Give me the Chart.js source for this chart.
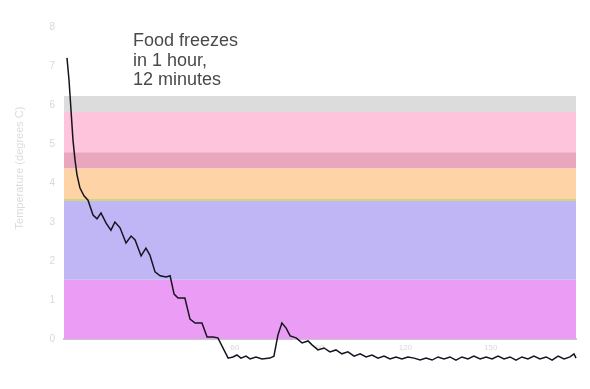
<!DOCTYPE html>
<html>
<head>
<meta charset="utf-8">
<script src="https://cdn.jsdelivr.net/npm/chart.js@4/dist/chart.umd.min.js"></script>
<style>
  html, body { margin: 0; padding: 0; background: #ffffff; }
  #wrap { width: 590px; height: 389px; }
</style>
</head>
<body>
<div id="wrap"><canvas id="c" width="590" height="389"></canvas></div>
<script>
// ---- data (minutes elapsed, temperature reading) ----
const minutes = [
  1.05, 1.76, 2.46, 3.16, 3.87, 4.57, 5.62, 7.03, 8.44, 10.2, 11.6, 13.0, 14.8, 16.5, 17.9, 19.7,
  21.8, 23.6, 25.0, 27.1, 28.8, 30.2, 32.0, 33.8, 35.9, 37.3, 38.7, 40.1, 42.5, 44.3, 46.1, 48.5,
  50.3, 52.4, 54.1, 57.7, 59.4, 60.8, 62.2, 64.0, 65.4, 67.5, 69.6, 72.4, 73.8, 75.2, 76.6, 78.1,
  79.5, 81.6, 83.7, 85.8, 87.2, 89.3, 91.4, 93.5, 95.6, 97.7, 99.8, 102.0, 104.1, 106.2, 108.3, 110.4,
  112.5, 114.6, 116.7, 118.8, 120.9, 123.1, 125.2, 127.3, 129.4, 131.5, 133.6, 135.7, 137.8, 139.9,
  142.0, 144.1, 146.3, 148.4, 150.5, 152.6, 154.7, 156.8, 158.9, 161.0, 163.1, 165.2, 167.3, 169.5,
  171.6, 173.7, 175.8, 177.9, 179.3, 180.0
];
const temperature = [
  7.21, 6.64, 5.87, 5.10, 4.59, 4.21, 3.87, 3.67, 3.56, 3.18, 3.08, 3.23, 2.97, 2.79, 3.00, 2.85,
  2.46, 2.64, 2.54, 2.13, 2.33, 2.15, 1.72, 1.62, 1.59, 1.62, 1.15, 1.05, 1.05, 0.51, 0.41, 0.41,
  0.05, 0.05, 0.03, -0.49, -0.46, -0.41, -0.49, -0.44, -0.51, -0.46, -0.51, -0.49, -0.44, 0.10, 0.41, 0.28,
  0.08, 0.03, -0.10, -0.05, -0.15, -0.28, -0.23, -0.33, -0.28, -0.38, -0.33, -0.44, -0.38, -0.46, -0.41, -0.49,
  -0.44, -0.51, -0.46, -0.51, -0.46, -0.49, -0.54, -0.49, -0.54, -0.46, -0.51, -0.46, -0.54, -0.46,
  -0.51, -0.44, -0.51, -0.46, -0.51, -0.44, -0.51, -0.46, -0.54, -0.46, -0.51, -0.44, -0.51, -0.46,
  -0.54, -0.44, -0.51, -0.46, -0.38, -0.49
];

// zones (lower, upper) in temperature units
const zoneLow  = [0.0, 1.52, 3.54, 3.59, 4.38, 4.79, 5.82];
const zoneHigh = [1.52, 3.54, 3.59, 4.38, 4.79, 5.82, 6.23];

// axis tick labels
const yTicks = [0, 1, 2, 3, 4, 5, 6, 7, 8];
const xTicks = [0, 30, 60, 90, 120, 150, 180];
const xShownTicks = [60, 90, 120, 150];

const noteLines = ["Food freezes", "in 1 hour,", "12 minutes"];
const yTitle = "Temperature (degrees C)";

// ---- styles ----
const zoneColors = ["#eb9cf5", "#c0b6f5", "#c9d878", "#fed4a6", "#eaa6bd", "#fec4dc", "#dcdcdc"];

const zonesPlugin = {
  id: 'zones',
  beforeDatasetsDraw(chart) {
    const { ctx, chartArea, scales } = chart;
    const y = scales.y;
    ctx.save();
    for (let i = 0; i < zoneLow.length; i++) {
      const top = y.getPixelForValue(zoneHigh[i]);
      const bot = y.getPixelForValue(zoneLow[i]);
      ctx.fillStyle = zoneColors[i];
      ctx.fillRect(chartArea.left, top, chartArea.right - chartArea.left, bot - top);
    }
    ctx.restore();
  },
  afterDraw(chart) {
    const { ctx, chartArea } = chart;
    ctx.save();
    ctx.fillStyle = '#4a4a4a';
    ctx.font = '18px "Liberation Sans", Arial, sans-serif';
    ctx.textBaseline = 'alphabetic';
    ctx.textAlign = 'left';
    noteLines.forEach((t, i) => {
      ctx.fillText(t, chartArea.left + 69, 46 + i * 19.5);
    });
    // y axis title
    ctx.fillStyle = '#dcdcdc';
    ctx.font = '11px "Liberation Sans", Arial, sans-serif';
    ctx.translate(20, 168);
    ctx.rotate(-Math.PI / 2);
    ctx.textAlign = 'center';
    ctx.textBaseline = 'middle';
    ctx.fillText(yTitle, 0, 0);
    ctx.restore();
  }
};

new Chart(document.getElementById('c'), {
  type: 'line',
  data: {
    datasets: [{
      data: minutes.map((m, i) => ({ x: m, y: temperature[i] })),
      borderColor: '#151520',
      borderWidth: 1.5,
      pointRadius: 0,
      tension: 0,
      fill: false,
      clip: false
    }]
  },
  options: {
    responsive: false,
    animation: false,
    devicePixelRatio: 1,
    layout: { padding: { top: 27, right: 14, bottom: 0, left: 0 } },
    plugins: { legend: { display: false }, tooltip: { enabled: false } },
    scales: {
      x: {
        type: 'linear',
        min: 0, max: 180,
        afterBuildTicks(scale) { scale.ticks = xTicks.map(v => ({ value: v })); },
        afterFit(scale) { scale.height = 50; },
        grid: { display: false, drawTicks: false },
        border: { display: true, color: '#c8c8c8', width: 2 },
        ticks: {
          padding: 4,
          color: '#d8d8d8',
          font: { size: 8, family: '"Liberation Sans", Arial, sans-serif' },
          maxRotation: 0,
          autoSkip: false,
          callback: v => xShownTicks.includes(v) ? String(v) : ''
        }
      },
      y: {
        min: 0, max: 8,
        afterBuildTicks(scale) { scale.ticks = yTicks.map(v => ({ value: v })); },
        afterFit(scale) { scale.width = 64; },
        grid: { display: false, drawTicks: false },
        border: { display: false },
        ticks: {
          padding: 9,
          color: '#d8d8d8',
          font: { size: 10, family: '"Liberation Sans", Arial, sans-serif' }
        }
      }
    }
  },
  plugins: [zonesPlugin]
});
</script>
</body>
</html>
